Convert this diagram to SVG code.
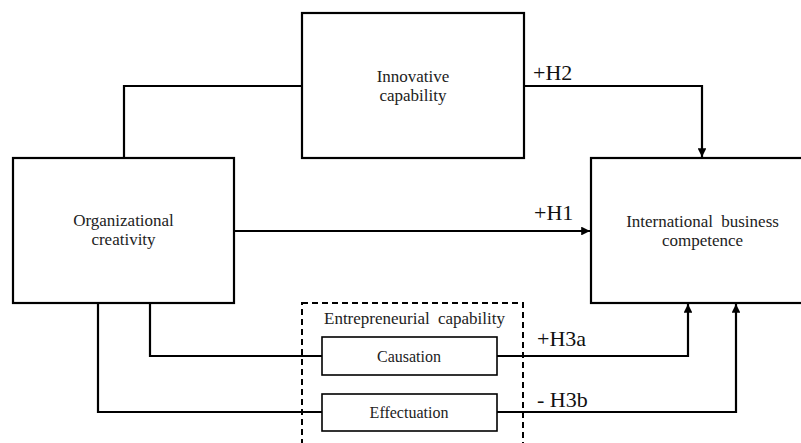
<svg xmlns="http://www.w3.org/2000/svg" width="801" height="443" viewBox="0 0 801 443">
<style>
.box{fill:#fff;stroke:#000;stroke-width:2.2}
.sbox{fill:#fff;stroke:#000;stroke-width:1.6}
.dash{fill:none;stroke:#000;stroke-width:2;stroke-dasharray:6 4}
.t{font-family:'Liberation Serif','Times New Roman',Tinos,'Noto Serif','Nimbus Roman','FreeSerif','DejaVu Serif',serif;font-size:17px;fill:#222;text-anchor:middle}
.lbl{font-family:'Liberation Serif','Times New Roman',Tinos,'Noto Serif','Nimbus Roman','FreeSerif','DejaVu Serif',serif;font-size:22px;fill:#111}
.c{fill:none;stroke:#000;stroke-width:2.2}
</style>
<defs>
<marker id="ah" viewBox="0 0 10 10" refX="10" refY="5" markerWidth="4" markerHeight="4" orient="auto" markerUnits="strokeWidth">
<path d="M0,0 L10,5 L0,10 z" fill="#000"/>
</marker>
</defs>
<rect width="801" height="443" fill="#fff"/>
<g id="connectors">
<polyline class="c" points="124,158 124,86 302,86"/>
<polyline class="c" points="524,86 702,86 702,157" marker-end="url(#ah)"/>
<line class="c" x1="234" y1="231" x2="590" y2="231" marker-end="url(#ah)"/>
<polyline class="c" points="150,303 150,356 322,356"/>
<polyline class="c" points="98,303 98,412 322,412"/>
<polyline class="c" points="497,356 688,356 688,304" marker-end="url(#ah)"/>
<polyline class="c" points="497,412 736,412 736,304" marker-end="url(#ah)"/>
<text class="lbl" x="533" y="80">+H2</text>
<text class="lbl" x="534" y="220">+H1</text>
<text class="lbl" x="537" y="346">+H3a</text>
<text class="lbl" x="537" y="407">- H3b</text>
</g>
<g id="innovative">
<rect class="box" x="302" y="13" width="222" height="145"/>
<text class="t" x="413" y="82">Innovative</text>
<text class="t" x="413" y="101">capability</text>
</g>
<g id="organizational">
<rect class="box" x="13" y="158" width="221" height="145"/>
<text class="t" x="123.5" y="226">Organizational</text>
<text class="t" x="123.5" y="245">creativity</text>
</g>
<g id="international">
<rect class="box" x="591" y="158" width="240" height="145"/>
<text class="t" x="702.5" y="227" style="word-spacing:4px">International business</text>
<text class="t" x="702.5" y="246">competence</text>
</g>
<g id="entrepreneurial">
<rect class="dash" x="302" y="303" width="221" height="150"/>
<text class="t" x="414.5" y="324" style="word-spacing:4px">Entrepreneurial capability</text>
</g>
<g id="causation">
<rect class="sbox" x="322" y="337" width="175" height="38"/>
<text class="t" x="409" y="362" style="font-size:16px">Causation</text>
</g>
<g id="effectuation">
<rect class="sbox" x="322" y="394" width="175" height="37"/>
<text class="t" x="409" y="418" style="font-size:16px">Effectuation</text>
</g>
</svg>
